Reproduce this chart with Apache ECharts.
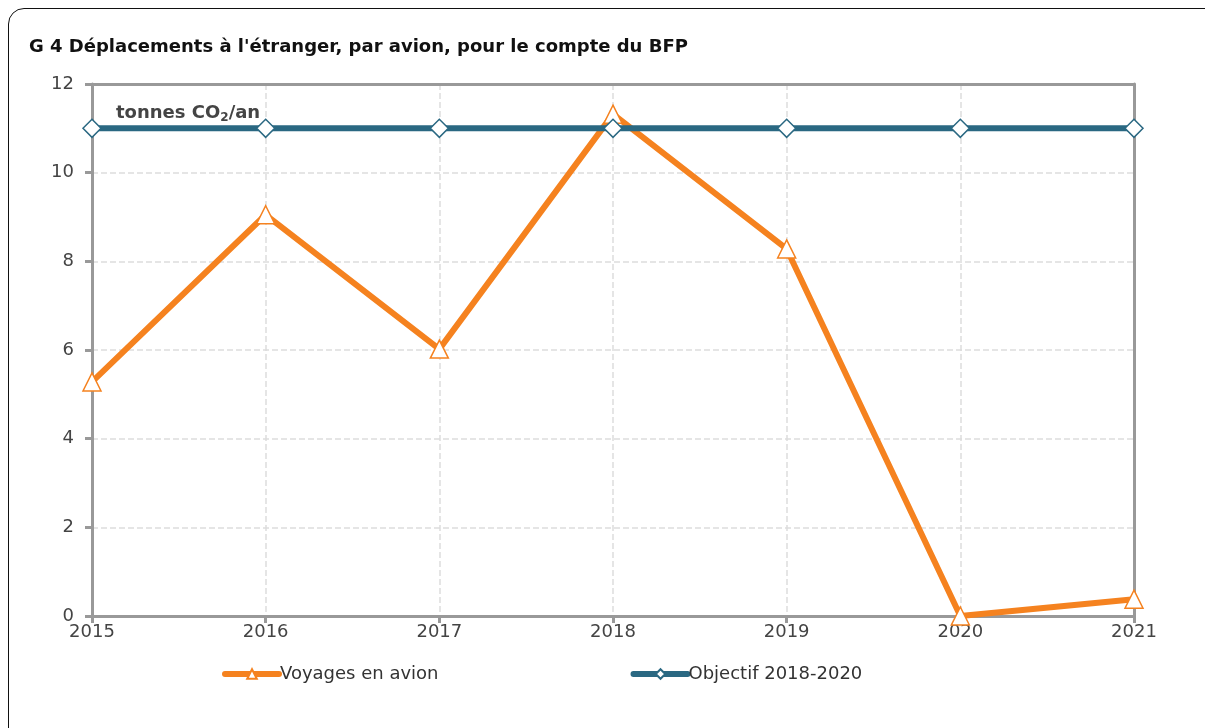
<!DOCTYPE html>
<html>
<head>
<meta charset="utf-8">
<script src="https://cdn.jsdelivr.net/npm/echarts@6/dist/echarts.min.js"></script>
<style>
  html, body { margin: 0; padding: 0; background: #fff; overflow: hidden; }
  .card {
    position: absolute; left: 8px; top: 8px; width: 1300px; height: 800px;
    border: 1.5px solid #111; border-radius: 16px; box-sizing: border-box;
  }
  #chart { position: absolute; left: 0; top: 0; width: 1205px; height: 728px; }
</style>
</head>
<body>
<div class="card"></div>
<div id="chart"></div>
<script>
// données
const years = ["2015", "2016", "2017", "2018", "2019", "2020", "2021"];
const voyages = [5.28, 9.05, 6.02, 11.32, 8.28, 0.0, 0.38];
const objectif = [11, 11, 11, 11, 11, 11, 11];
const yTicks = [0, 2, 4, 6, 8, 10, 12];

const fontFam = "'DejaVu Sans', 'Open Sans', sans-serif";
const orange = "#F5821F";
const teal = "#2A6882";
const frame = "#999";

const chart = echarts.init(document.getElementById("chart"));

const option = {
  animation: false,
  title: {
    text: "G 4 Déplacements à l'étranger, par avion, pour le compte du BFP",
    left: 24,
    top: 33,
    textStyle: { fontFamily: fontFam, fontSize: 18, fontWeight: "bold", color: "#111" }
  },
  grid: { left: 92, right: 71, top: 84, bottom: 112 },
  legend: {
    bottom: 40,
    left: 217,
    itemGap: 192,
    itemWidth: 54,
    itemHeight: 12,
    lineStyle: { width: 6, cap: "round" },
    textStyle: { fontFamily: fontFam, fontSize: 18, color: "#333", padding: [0, 0, 0, -4] },
    data: ["Voyages en avion", "Objectif 2018-2020"]
  },
  xAxis: [
    {
      type: "category",
      data: years,
      boundaryGap: false,
      axisLine: { lineStyle: { color: frame, width: 3 } },
      axisTick: { show: true, length: 7, lineStyle: { color: frame, width: 3 } },
      axisLabel: { fontFamily: fontFam, fontSize: 18, color: "#444", margin: 7 },
      splitLine: { show: true, lineStyle: { color: "#ddd", type: "dashed", width: 1.5 } }
    },
    {
      type: "category",
      data: years,
      position: "top",
      boundaryGap: false,
      axisLine: { show: true, onZero: false, lineStyle: { color: frame, width: 3 } },
      axisTick: { show: false },
      axisLabel: { show: false },
      splitLine: { show: false }
    }
  ],
  yAxis: [
    {
      type: "value",
      min: 0, max: 12, interval: 2,
      axisLine: { show: true, lineStyle: { color: frame, width: 3 } },
      axisTick: { show: true, length: 7, lineStyle: { color: frame, width: 3 } },
      axisLabel: {
        fontFamily: fontFam, fontSize: 18, color: "#444", margin: 18,
        formatter: v => (yTicks.includes(v) ? String(v) : "")
      },
      splitLine: { show: true, lineStyle: { color: "#ddd", type: "dashed", width: 1.5 } }
    },
    {
      type: "value",
      min: 0, max: 12, interval: 2,
      position: "right",
      axisLine: { show: true, onZero: false, lineStyle: { color: frame, width: 3 } },
      axisTick: { show: false },
      axisLabel: { show: false },
      splitLine: { show: false }
    }
  ],
  graphic: [{
    type: "text",
    left: 116,
    top: 104,
    style: {
      text: "{b|tonnes CO}{s|2}{b|/an}",
      rich: {
        b: { fontFamily: fontFam, fontSize: 18, fontWeight: "bold", fill: "#444" },
        s: { fontFamily: fontFam, fontSize: 12, fontWeight: "bold", fill: "#444", verticalAlign: "bottom", padding: [9, 0, 0, 0] }
      }
    },
    z: 10
  }],
  series: [
    {
      name: "Voyages en avion",
      type: "line",
      data: voyages,
      symbol: "triangle",
      symbolSize: 18,
      lineStyle: { color: orange, width: 6 },
      itemStyle: { color: "#fff", borderColor: orange, borderWidth: 1.5 },
      z: 3
    },
    {
      name: "Objectif 2018-2020",
      type: "line",
      data: objectif,
      symbol: "diamond",
      symbolSize: 18,
      lineStyle: { color: teal, width: 6 },
      itemStyle: { color: "#fff", borderColor: teal, borderWidth: 1.5 },
      z: 4
    }
  ]
};

chart.setOption(option);
</script>
</body>
</html>
